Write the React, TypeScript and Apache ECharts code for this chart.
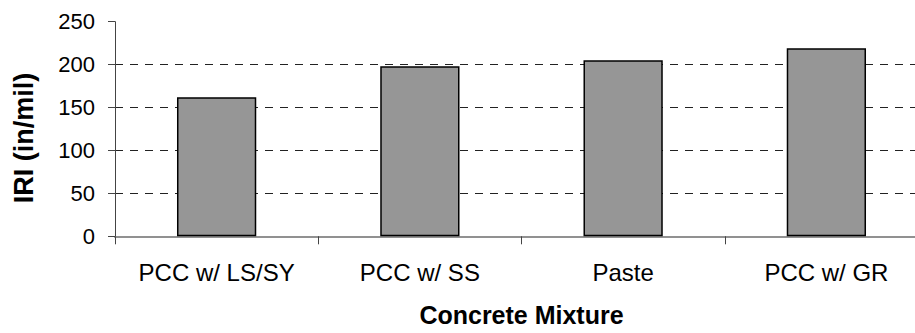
import React, { useEffect, useRef } from "react";
import * as echarts from "echarts";

const categories = ["PCC w/ LS/SY", "PCC w/ SS", "Paste", "PCC w/ GR"];
const iriValues = [162, 198, 205, 219];
const yMin = 0;
const yMax = 250;
const yInterval = 50;
const xAxisTitle = "Concrete Mixture";
const yAxisTitle = "IRI (in/mil)";

export default function App() {
  const ref = useRef<HTMLDivElement>(null);

  useEffect(() => {
    if (!ref.current) return;
    const chart = echarts.init(ref.current, undefined, { renderer: "svg" });
    const font = "'Liberation Sans', Arial, sans-serif";
    chart.setOption({
      animation: false,
      backgroundColor: "#ffffff",
      grid: { left: 115, right: 12, top: 21.7, bottom: 96.7, containLabel: false },
      xAxis: [
        {
          type: "category",
          data: categories,
          position: "bottom",
          axisLine: { show: true, onZero: false, lineStyle: { color: "#333333", width: 1.5 } },
          axisTick: { show: true, alignWithLabel: false, length: 8, lineStyle: { color: "#444444", width: 1 } },
          axisLabel: { color: "#000000", fontFamily: font, fontSize: 24, margin: 24 },
          name: xAxisTitle,
          nameLocation: "middle",
          nameGap: 66,
          nameTextStyle: { color: "#000000", fontFamily: font, fontSize: 25, fontWeight: "bold" },
          splitLine: { show: false },
        },
        {
          type: "category",
          data: categories,
          position: "top",
          axisLine: { show: true, lineStyle: { color: "#a0a0a0", width: 1.5 } },
          axisTick: { show: false },
          axisLabel: { show: false },
          splitLine: { show: false },
        },
      ],
      yAxis: {
        type: "value",
        min: yMin,
        max: yMax,
        interval: yInterval,
        axisLine: { show: true, lineStyle: { color: "#444444", width: 1 } },
        axisTick: { show: true, length: 7, lineStyle: { color: "#444444", width: 1 } },
        axisLabel: { color: "#000000", fontFamily: font, fontSize: 22, margin: 20 },
        splitLine: {
          show: true,
          showMinLine: false,
          showMaxLine: false,
          lineStyle: { color: "#222222", type: [8, 7], width: 1 },
        },
        name: yAxisTitle,
        nameLocation: "middle",
        nameRotate: 90,
        nameGap: 78,
        nameTextStyle: {
          color: "#000000",
          fontFamily: font,
          fontSize: 27,
          fontWeight: "bold",
          padding: [0, 18, 0, 0],
        },
      },
      series: [
        {
          type: "bar",
          data: iriValues,
          xAxisIndex: 0,
          barWidth: "39%",
          itemStyle: { color: "#969696", borderColor: "#000000", borderWidth: 1.5 },
          label: { show: false },
        },
      ],
    });
    return () => chart.dispose();
  }, []);

  return (
    <div style={{ position: "fixed", left: 0, top: 0, width: 915, height: 333, overflow: "hidden", background: "#fff" }}>
      <div ref={ref} style={{ width: 940, height: 333 }} />
    </div>
  );
}
